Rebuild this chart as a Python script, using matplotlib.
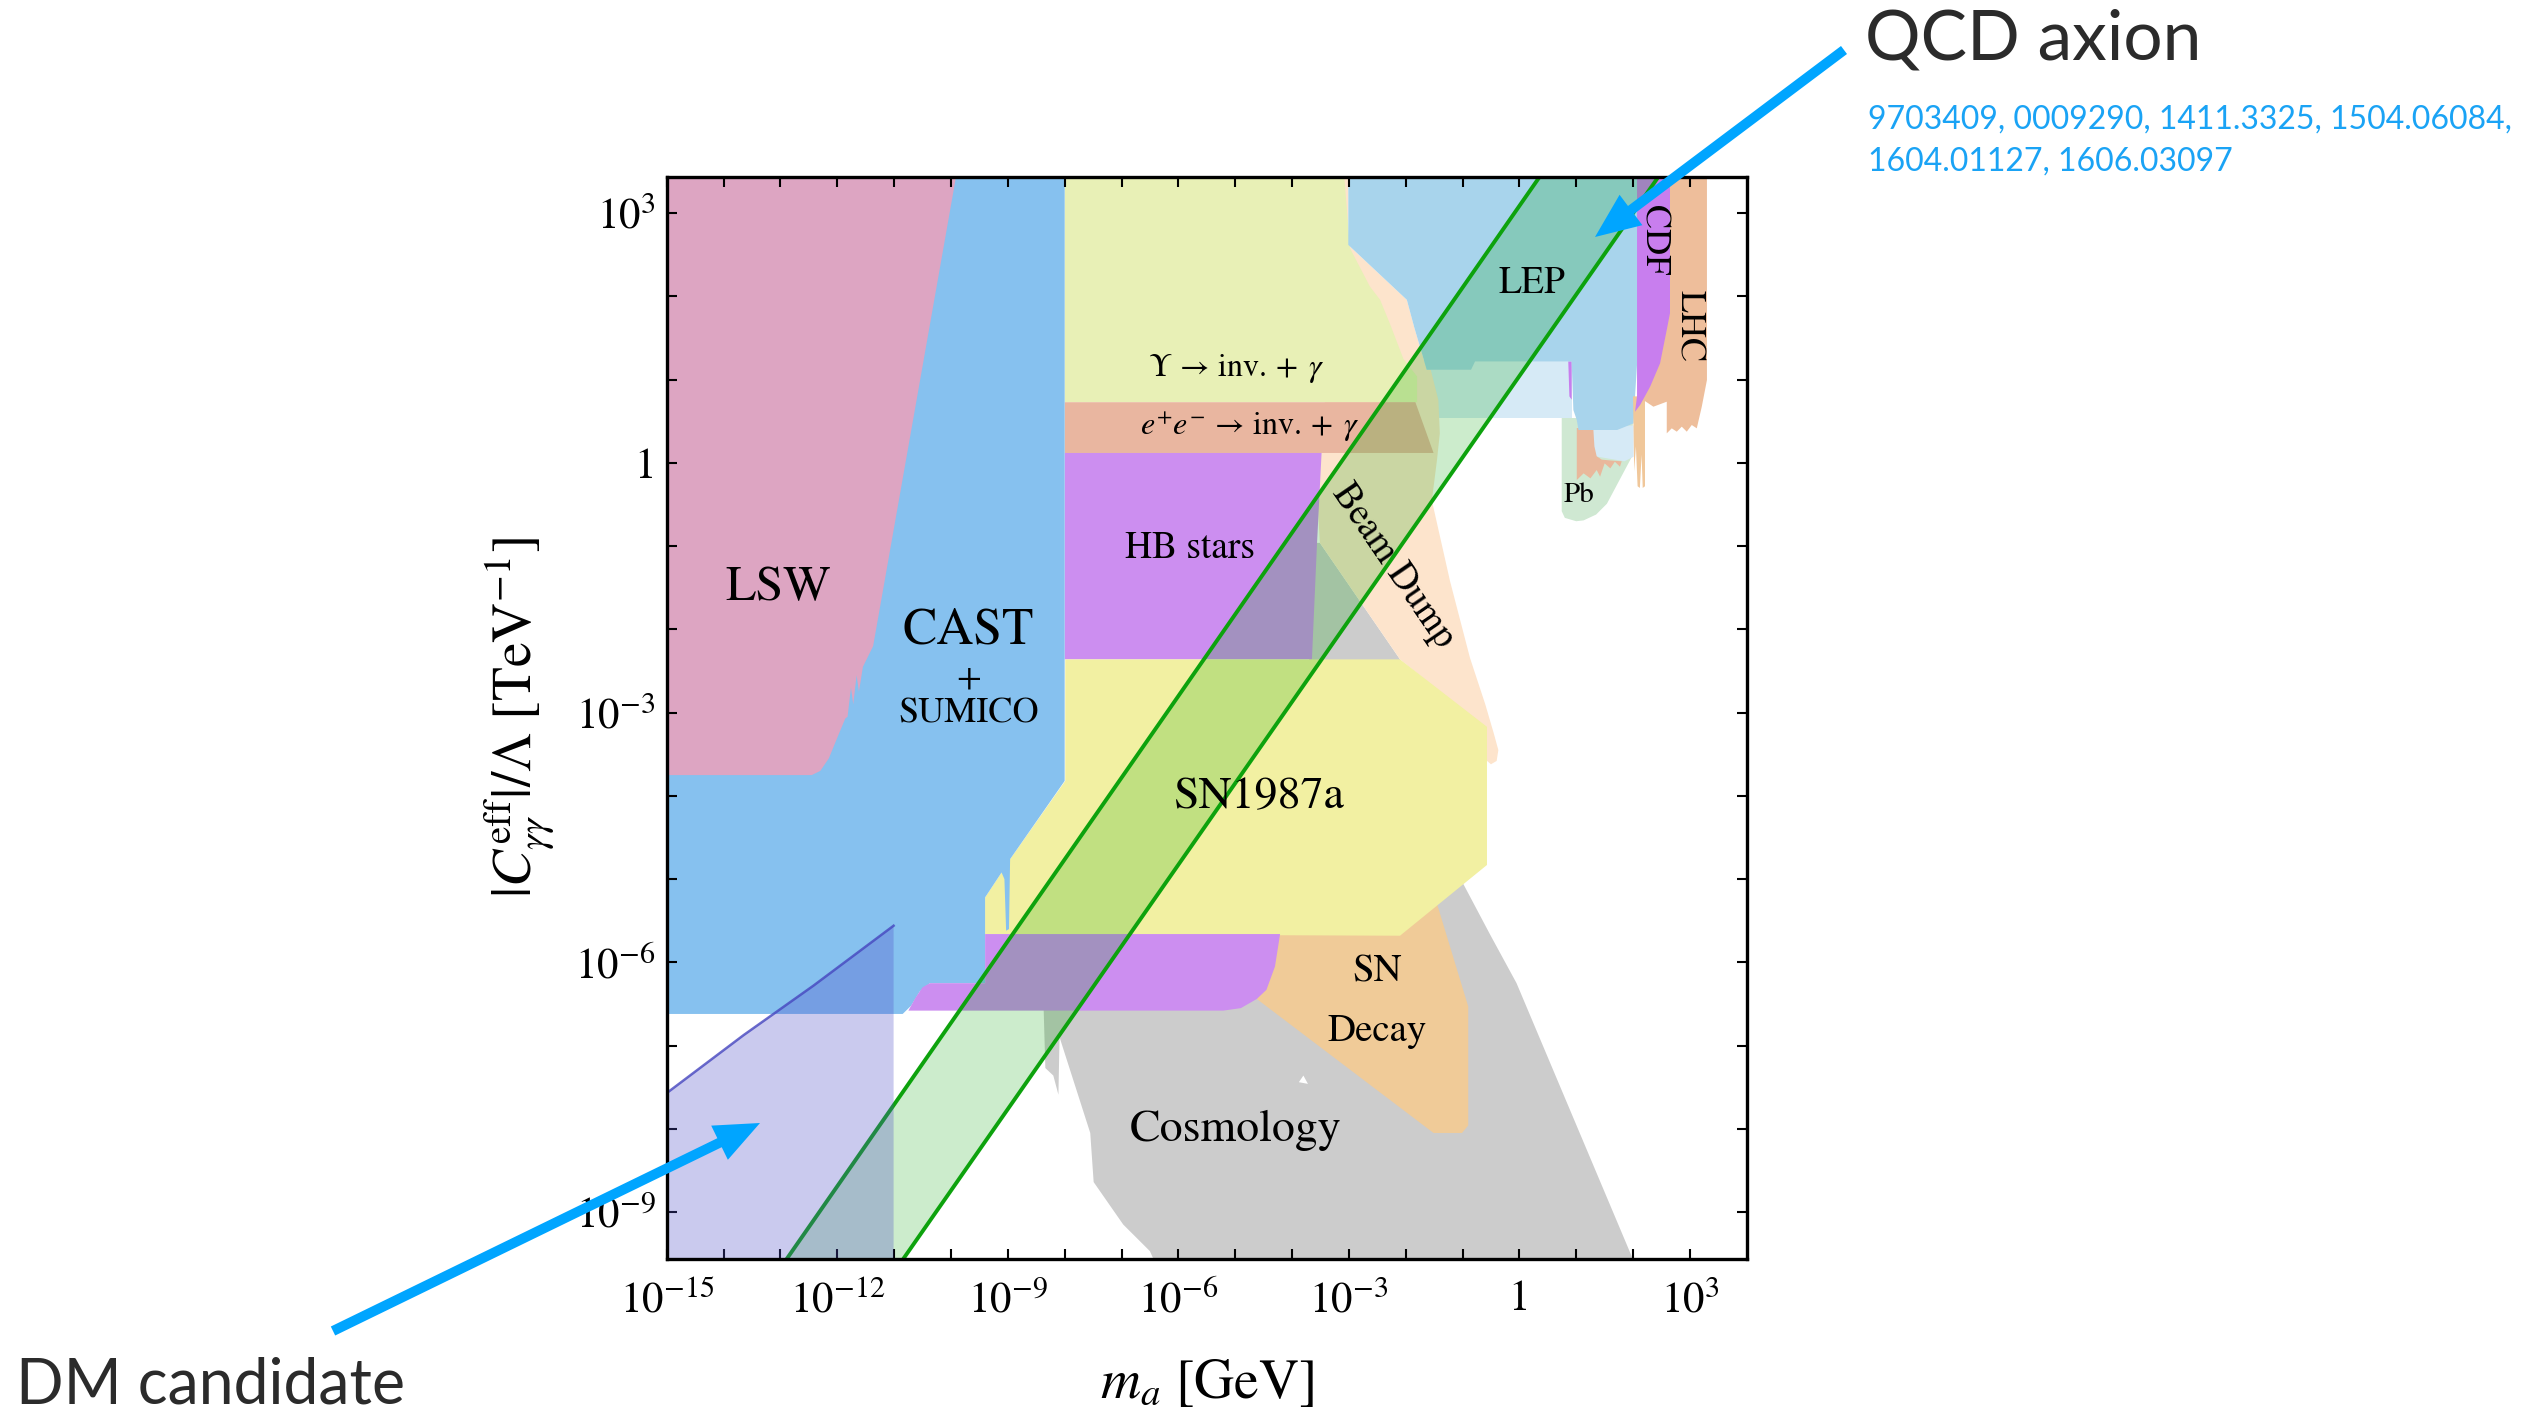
import numpy as np
import matplotlib
matplotlib.use('Agg')
import matplotlib.pyplot as plt
from matplotlib.patches import FancyArrow
from matplotlib.ticker import NullFormatter

plt.rcParams['font.family'] = ['STIXGeneral', 'DejaVu Serif']
plt.rcParams['mathtext.fontset'] = 'stix'

# every vertex below is (log10 m_a/GeV, log10 |C|/Lambda*TeV)
cosmo_x = [-8.37, -8.34, -8.20, -8.11, -8.09, -7.55, -7.49, -6.97, -6.50, -6.35, 2.08, -0.05, -0.52, -0.985, -2.10, -3.51, -3.70, -3.70, -5.60, -5.60]
cosmo_y = [-6.55, -7.27, -7.36, -7.59, -6.90, -8.05, -8.64, -9.15, -9.47, -9.70, -9.70, -6.25, -5.66, -5.06, -2.36, -0.96, -0.96, -5.70, -5.70, -6.50]
hole_x = [-3.88, -3.80, -3.72]
hole_y = [-7.44, -7.36, -7.46]

sndecay_x = [-4.62, -4.40, -4.25, -1.47, -0.90, -0.90, -1.01, -1.51]
sndecay_y = [-6.44, -6.00, -5.60, -5.25, -6.53, -7.96, -8.05, -8.05]

beam_x = [-3.15, -3.01, -3.01, -1.98, -1.85, -1.63, -1.56, -1.425, -1.40, -1.45, -1.54, -1.22, -0.87, -0.60, -0.45, -0.37, -0.40, -0.50, -0.62, -0.62, -2.10, -3.51, -3.60, -3.20]
beam_y = [3.60, 3.60, 2.62, 1.96, 1.63, 1.12, 1.12, 0.755, 0.356, 0.035, -0.45, -1.42, -2.34, -2.90, -3.25, -3.45, -3.58, -3.62, -3.55, -3.17, -2.36, -0.96, 0.12, 1.50]

lblue_x = [-1.70, 0.92, 0.92, -1.70]
lblue_y = [1.22, 1.22, 0.536, 0.536]

ups_x = [-8.0, -3.10, -2.98, -2.63, -2.45, -2.27, -2.04, -1.80, -1.80, -8.0]
ups_y = [3.60, 3.60, 2.58, 2.12, 1.96, 1.66, 1.25, 1.04, 0.73, 0.73]

ee_x = [-8.0, -1.83, -1.51, -8.0]
ee_y = [0.73, 0.73, 0.12, 0.12]

hb_x = [-8.0, -3.48, -3.56, -3.65, -8.0]
hb_y = [0.12, 0.12, -0.96, -2.36, -2.36]

sn87_x = [-7.99, -2.10, -0.57, -0.57, -2.10, -9.40, -9.40, -9.11, -8.96, -7.99]
sn87_y = [-2.36, -2.36, -3.17, -4.83, -5.68, -5.66, -5.22, -4.92, -4.76, -3.82]

cast_x = [-15.0, -9.87, -8.0, -8.0, -8.96, -8.98, -9.03, -9.06, -9.11, -9.40, -9.40, -10.37, -10.55, -10.70, -10.85, -15.0]
cast_y = [3.60, 3.60, 3.60, -3.82, -4.76, -5.60, -5.62, -5.00, -4.92, -5.22, -6.25, -6.25, -6.35, -6.52, -6.62, -6.62]

lsw_x = [-15.0, -9.87, -11.37, -11.55, -11.62, -11.66, -11.72, -11.76, -11.82, -11.86, -12.00, -12.15, -12.30, -12.45, -15.0]
lsw_y = [3.60, 3.60, -2.20, -2.45, -2.75, -2.55, -2.90, -2.70, -3.05, -3.07, -3.30, -3.55, -3.70, -3.75, -3.75]

hbstrip_x = [-10.75, -10.62, -10.50, -10.37, -9.40, -9.40, -4.21, -4.30, -4.45, -4.62, -4.90, -5.21]
hbstrip_y = [-6.58, -6.42, -6.30, -6.25, -6.25, -5.66, -5.66, -6.05, -6.33, -6.44, -6.55, -6.58]

pb_x = [0.745, 0.745, 0.80, 1.00, 1.13, 1.35, 1.54, 1.75, 1.98, 2.00]
pb_y = [0.54, -0.58, -0.66, -0.70, -0.69, -0.62, -0.49, -0.22, 0.075, 0.54]

lblue2_x = [1.25, 2.01, 2.01, 1.85, 1.33]
lblue2_y = [0.45, 0.45, 0.075, 0.02, 0.08]

pbspike_x = [1.01, 1.01, 1.13, 1.25, 1.36, 1.42, 1.50, 1.60, 1.68, 1.77, 1.80, 1.60, 1.45, 1.36, 1.32, 1.30]
pbspike_y = [0.42, -0.205, -0.125, -0.185, -0.085, -0.165, -0.005, -0.065, 0.015, -0.045, 0.02, 0.03, 0.04, 0.08, 0.20, 0.42]

sliver_x = [0.86, 0.92, 0.92, 0.88]
sliver_y = [1.22, 1.22, 0.76, 0.80]

lep_x = [-3.01, 2.09, 2.09, 2.03, 2.01, 1.72, 1.04, 1.01, 0.95, 0.92, -0.78, -0.85, -1.63, -1.85, -1.98, -3.01]
lep_y = [3.60, 3.60, 1.40, 0.75, 0.476, 0.396, 0.396, 0.516, 0.636, 1.22, 1.22, 1.12, 1.12, 1.63, 1.96, 2.62]

strip_x = [2.00, 2.21, 2.21, 2.17, 2.15, 2.12, 2.08, 2.05, 2.02]
strip_y = [0.80, 0.80, -0.28, -0.30, 0.10, -0.30, -0.28, 0.20, -0.10]

lhc_x = [2.241, 3.30, 3.30, 3.209, 3.121, 3.033, 2.945, 2.857, 2.769, 2.681, 2.593, 2.593, 2.358, 2.182, 2.124, 2.20]
lhc_y = [3.60, 3.60, 0.997, 0.676, 0.416, 0.456, 0.376, 0.436, 0.376, 0.416, 0.356, 0.736, 0.676, 0.756, 0.796, 1.50]

cdf_x = [2.07, 2.65, 2.65, 2.593, 2.475, 2.30, 2.124, 2.035, 2.07]
cdf_y = [3.60, 3.60, 1.80, 1.60, 1.197, 0.916, 0.696, 0.616, 0.80]

dm_x = [-15.0, -13.65, -12.42, -11.01, -11.01, -15.0]
dm_y = [-7.57, -6.875, -6.28, -5.56, -9.70, -9.70]

qcd_up_x = [-13.05, 0.45]
qcd_up_y = [-9.72, 3.53]
qcd_lo_x = [-11.00, 2.54]
qcd_lo_y = [-9.72, 3.53]

regions = [
    (cosmo_x, cosmo_y, '#cccccc'),
    (hole_x, hole_y, 'white'),
    (sndecay_x, sndecay_y, '#f0cb98'),
    (lblue_x, lblue_y, '#d6eaf6'),
    (beam_x, beam_y, '#fde4cc'),
    (ups_x, ups_y, '#e8f0b6'),
    (ee_x, ee_y, '#e9b6a0'),
    (hb_x, hb_y, '#cc8ef0'),
    (sn87_x, sn87_y, '#f2f0a2'),
    (cast_x, cast_y, '#86c1ef'),
    (lsw_x, lsw_y, '#dda5c2'),
    (hbstrip_x, hbstrip_y, '#cc8ef0'),
    (pb_x, pb_y, '#cfe8d2'),
    (lblue2_x, lblue2_y, '#d6eaf6'),
    (pbspike_x, pbspike_y, '#e9b89c'),
    (sliver_x, sliver_y, '#c87eee'),
    (lep_x, lep_y, '#a8d4ec'),
    (strip_x, strip_y, '#f0c79a'),
    (lhc_x, lhc_y, '#eebe9b'),
    (cdf_x, cdf_y, '#c87eee'),
]

fig = plt.figure(figsize=(25.47, 14.12), dpi=100)
ax = fig.add_axes([0.2618, 0.1086, 0.4240, 0.7663])
ax.set_xscale('log')
ax.set_yscale('log')

for i, (x, y, c) in enumerate(regions):
    ax.fill(10.0 ** np.array(x), 10.0 ** np.array(y), color=c, lw=0, zorder=1 + i * 0.01)

# QCD axion band
band_x = qcd_up_x + qcd_lo_x[::-1]
band_y = qcd_up_y + qcd_lo_y[::-1]
ax.fill(10.0 ** np.array(band_x), 10.0 ** np.array(band_y), color=(0, 160/255, 0), alpha=0.2, lw=0, zorder=1.5)
ax.plot(10.0 ** np.array(qcd_up_x), 10.0 ** np.array(qcd_up_y), color='#0da20d', lw=2.8, zorder=1.6)
ax.plot(10.0 ** np.array(qcd_lo_x), 10.0 ** np.array(qcd_lo_y), color='#0da20d', lw=2.8, zorder=1.6)

# DM candidate region
ax.fill(10.0 ** np.array(dm_x), 10.0 ** np.array(dm_y), color=(80/255, 80/255, 200/255), alpha=0.3, lw=0, zorder=1.7)
ax.plot(10.0 ** np.array(dm_x[:4]), 10.0 ** np.array(dm_y[:4]), color='#4646bf', lw=1.8, alpha=0.8, zorder=1.8)

ax.set_xlim(1e-15, 1e4)
ax.set_ylim(10 ** -9.56, 10 ** 3.44)

xt = [-15, -12, -9, -6, -3, 0, 3]
yt = [-9, -6, -3, 0, 3]
ax.set_xticks([10.0 ** v for v in xt])
ax.set_xticklabels(['1' if v == 0 else r'$10^{%d}$' % v for v in xt])
ax.set_xticks([10.0 ** v for v in range(-15, 4)], minor=True)
ax.set_yticks([10.0 ** v for v in yt])
ax.set_yticklabels(['1' if v == 0 else r'$10^{%d}$' % v for v in yt])
ax.set_yticks([10.0 ** v for v in range(-9, 4)], minor=True)
ax.xaxis.set_minor_formatter(NullFormatter())
ax.yaxis.set_minor_formatter(NullFormatter())
ax.tick_params(which='both', direction='in', top=True, right=True, length=7, width=1.5, labelsize=31)
ax.tick_params(axis='x', which='major', pad=16)
ax.tick_params(axis='y', which='major', pad=8)
for s in ax.spines.values():
    s.set_linewidth(2.4)

ax.set_xlabel(r'$m_a\ [\mathrm{GeV}]$', fontsize=40, labelpad=26)
ax.set_ylabel(r'$|C_{\gamma\gamma}^{\mathrm{eff}}|/\Lambda\ [\mathrm{TeV}^{-1}]$', fontsize=40, labelpad=14)

labels = [
    (-13.04, -1.51, 'LSW', 36, 0),
    (-9.69, -2.02, 'CAST', 37, 0),
    (-9.69, -2.59, '+', 26, 0),
    (-9.69, -3.01, 'SUMICO', 26, 0),
    (-4.97, 1.13, r'$\Upsilon\,\rightarrow\,\mathrm{inv.} +\;\gamma$', 23, 0),
    (-4.74, 0.44, r'$e^{+}e^{-}\,\rightarrow\,\mathrm{inv.} +\;\gamma$', 23, 0),
    (-5.79, -1.03, 'HB stars', 27, 0),
    (-2.22, -1.24, 'Beam Dump', 27, -55.6),
    (0.22, 2.16, 'LEP', 27, 0),
    (2.36, 2.68, 'CDF', 26, -90),
    (2.97, 1.64, 'LHC', 26, -90),
    (1.04, -0.39, 'Pb', 21, 0),
    (-4.59, -4.02, 'SN1987a', 33, 0),
    (-2.51, -6.12, 'SN', 28, 0),
    (-2.51, -6.83, 'Decay', 28, 0),
    (-5.0, -8.02, 'Cosmology', 33, 0),
]
for x, y, t, fs, rot in labels:
    ax.text(10.0 ** x, 10.0 ** y, t, fontsize=fs, rotation=rot, ha='center', va='center',
            rotation_mode='anchor', zorder=3)

# annotations outside the plot
fig.text(1865 / 2547, 1 - 40 / 1412, 'QCD axion', fontsize=50, family=['Lato', 'DejaVu Sans'],
         color='#2b2b2b', ha='left', va='center')
fig.text(1868 / 2547, 1 - 120 / 1412, '9703409, 0009290, 1411.3325, 1504.06084,', fontsize=23,
         family=['Lato', 'DejaVu Sans'], color='#1aa3f5', ha='left', va='center')
fig.text(1868 / 2547, 1 - 162 / 1412, '1604.01127, 1606.03097', fontsize=23,
         family=['Lato', 'DejaVu Sans'], color='#1aa3f5', ha='left', va='center')
fig.text(16 / 2547, 1 - 1385 / 1412, 'DM candidate', fontsize=45, family=['Lato', 'DejaVu Sans'],
         color='#2b2b2b', ha='left', va='center')

for (x0, y0), (x1, y1) in [((1844, 50), (1595, 237)), ((333, 1331), (760, 1123))]:
    arr = FancyArrow(x0 / 100, (1412 - y0) / 100, (x1 - x0) / 100, (y0 - y1) / 100,
                     width=0.10, head_width=0.38, head_length=0.45, length_includes_head=True,
                     color='#00a5ff', lw=0, transform=fig.dpi_scale_trans, zorder=10)
    fig.add_artist(arr)

fig.savefig('out.png', dpi=100)
